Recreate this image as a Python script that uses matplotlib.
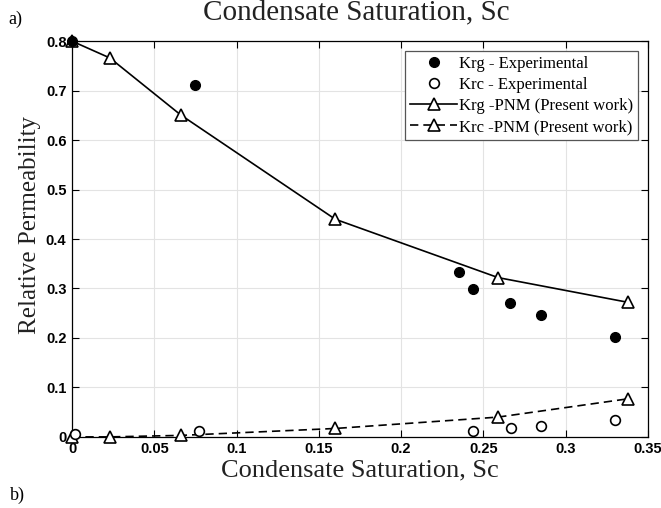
import matplotlib
matplotlib.use("Agg")
from matplotlib import pyplot as plt

# Krg / Krc experimental points
krg_exp_x = [0.0, 0.075, 0.235, 0.244, 0.266, 0.285, 0.330]
krg_exp_y = [0.800, 0.711, 0.333, 0.299, 0.271, 0.246, 0.202]
krc_exp_x = [0.002, 0.077, 0.244, 0.267, 0.285, 0.330]
krc_exp_y = [0.006, 0.012, 0.012, 0.018, 0.022, 0.035]

# pore network model results
pnm_x = [0.0, 0.023, 0.066, 0.160, 0.259, 0.338]
krg_pnm = [0.800, 0.766, 0.651, 0.440, 0.322, 0.272]
krc_pnm = [0.000, 0.000, 0.003, 0.017, 0.040, 0.077]

xticks = [0, 0.05, 0.1, 0.15, 0.2, 0.25, 0.3, 0.35]
xticklabels = ["0", "0.05", "0.1", "0.15", "0.2", "0.25", "0.3", "0.35"]
yticks = [0, 0.1, 0.2, 0.3, 0.4, 0.5, 0.6, 0.7, 0.8]
yticklabels = ["0", "0.1", "0.2", "0.3", "0.4", "0.5", "0.6", "0.7", "0.8"]

serif = "Liberation Serif"
sans = "Liberation Sans"

fig = plt.figure(figsize=(6.61, 5.08), dpi=100)
ax = fig.add_axes([0.109, 0.140, 0.871, 0.779])

ax.plot(krg_exp_x, krg_exp_y, "o", color="black", ms=7, clip_on=False,
        label="Krg - Experimental", zorder=5)
ax.plot(krc_exp_x, krc_exp_y, "o", mfc="white", mec="black", mew=1.2, ms=7,
        clip_on=False, label="Krc - Experimental", zorder=5)
ax.plot(pnm_x, krg_pnm, "-^", color="black", lw=1.2, mfc="white", mec="black",
        mew=1.2, ms=8.5, clip_on=False, label="Krg -PNM (Present work)", zorder=4)
ax.plot(pnm_x, krc_pnm, "--^", color="black", lw=1.2, mfc="white", mec="black",
        mew=1.2, ms=8.5, dashes=(5, 3), clip_on=False,
        label="Krc -PNM (Present work)", zorder=4)

ax.set_xlim(0, 0.35)
ax.set_ylim(0, 0.8)
ax.set_xticks(xticks)
ax.set_xticklabels(xticklabels, fontfamily=sans, fontweight="bold", fontsize=10.5)
ax.set_yticks(yticks)
ax.set_yticklabels(yticklabels, fontfamily=sans, fontweight="bold", fontsize=10.5)
ax.tick_params(direction="in", top=True, right=True, length=5, width=0.8, pad=4)
ax.grid(True, color="#e3e3e3", lw=0.8)
ax.set_axisbelow(True)
for s in ax.spines.values():
    s.set_linewidth(0.9)

ax.set_xlabel("Condensate Saturation, Sc", fontfamily=serif, fontsize=19,
              color="#222222", labelpad=2)
ax.set_ylabel("Relative Permeability", fontfamily=serif, fontsize=18,
              color="#222222")
ax.yaxis.set_label_coords(-0.054, 0.535)

leg = ax.legend(loc="upper right", prop={"family": serif, "size": 12},
                fancybox=False, edgecolor="#555555", framealpha=1,
                borderaxespad=0.6, handlelength=2.8, labelspacing=0.3,
                handletextpad=0.1, borderpad=0.3)
leg.get_frame().set_linewidth(0.9)
leg.set_zorder(6)

# fragments of the neighbouring panels
fig.text(0.539, 1 - 19 / 508, "Condensate Saturation, Sc", fontfamily=serif,
         fontsize=21, ha="center", va="baseline", color="#222222")
fig.text(0.012, 1 - 24 / 508, "a)", fontfamily=serif, fontsize=13, va="baseline")
fig.text(0.015, 1 - 500 / 508, "b)", fontfamily=serif, fontsize=13, va="baseline")

fig.savefig("out.png", dpi=100)
